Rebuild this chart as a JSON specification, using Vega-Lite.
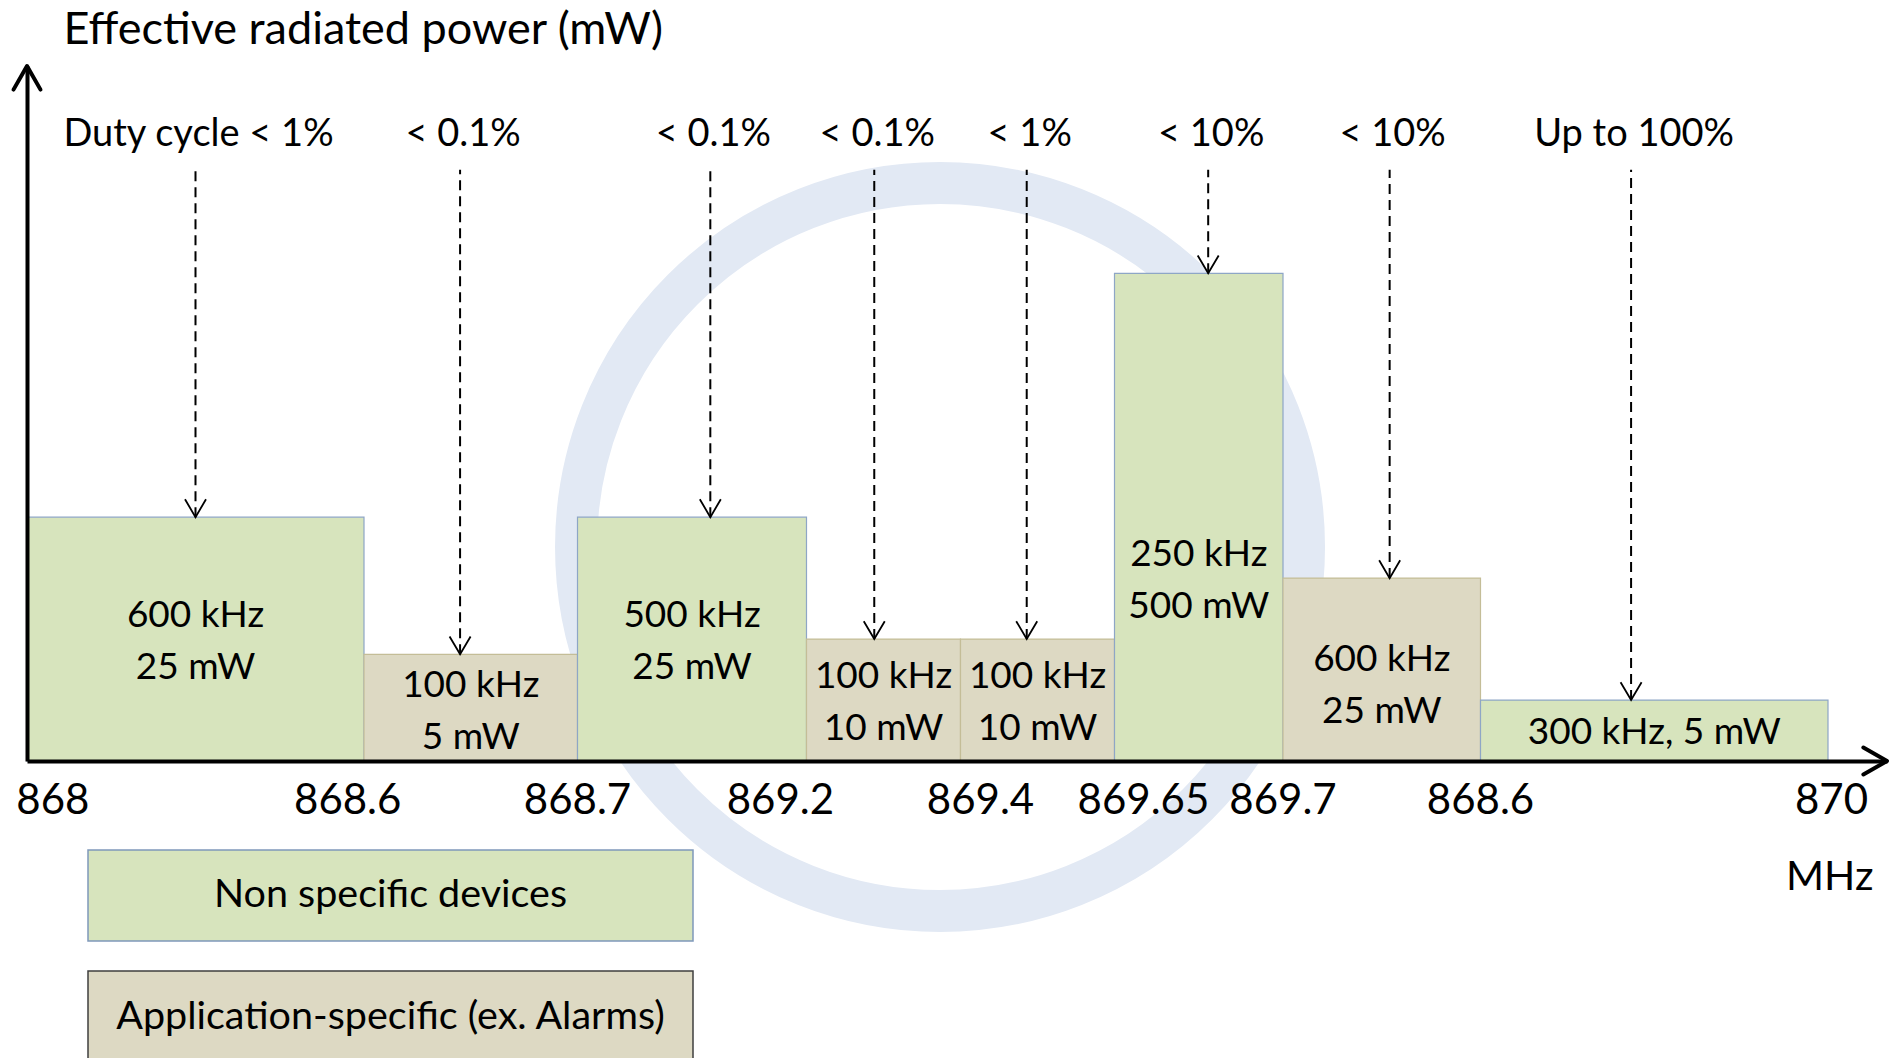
{
  "$schema": "https://vega.github.io/schema/vega-lite/v6.json",
  "width": 1860,
  "height": 695,
  "autosize": "none",
  "padding": {"left": 27, "top": 66, "right": 7, "bottom": 297},
  "background": "white",
  "config": {
    "view": {"stroke": null},
    "font": "Lato",
    "text": {"font": "Lato", "color": "black"}
  },
  "datasets": {
    "bands": [
      {"f0": 868.0, "f1": 868.6, "center": 868.3, "label": "600 kHz\n25 mW", "type": "Non specific devices", "duty": "Duty cycle < 1%", "level": 4, "labelLevel": 2, "pointer": 868.3},
      {"f0": 868.6, "f1": 868.7, "center": 868.65, "label": "100 kHz\n5 mW", "type": "Application-specific (ex. Alarms)", "duty": "< 0.1%", "level": 1.75, "labelLevel": 0.86, "pointer": 868.645},
      {"f0": 868.7, "f1": 869.2, "center": 868.95, "label": "500 kHz\n25 mW", "type": "Non specific devices", "duty": "< 0.1%", "level": 4, "labelLevel": 2, "pointer": 868.99},
      {"f0": 869.2, "f1": 869.3, "center": 869.25, "label": "100 kHz\n10 mW", "type": "Application-specific (ex. Alarms)", "duty": "< 0.1%", "level": 2, "labelLevel": 1, "pointer": 869.244},
      {"f0": 869.3, "f1": 869.4, "center": 869.35, "label": "100 kHz\n10 mW", "type": "Application-specific (ex. Alarms)", "duty": "< 1%", "level": 2, "labelLevel": 1, "pointer": 869.343},
      {"f0": 869.4, "f1": 869.65, "center": 869.525, "label": "250 kHz\n500 mW", "type": "Non specific devices", "duty": "< 10%", "level": 8, "labelLevel": 3, "pointer": 869.539},
      {"f0": 869.65, "f1": 869.7, "center": 869.675, "label": "600 kHz\n25 mW", "type": "Application-specific (ex. Alarms)", "duty": "< 10%", "level": 3, "labelLevel": 1.28, "pointer": 869.677},
      {"f0": 869.7, "f1": 870.0, "center": 869.85, "label": "300 kHz, 5 mW", "type": "Non specific devices", "duty": "Up to 100%", "level": 1, "labelLevel": 0.5, "pointer": 869.83}
    ],
    "ticks": [
      {"label": "868", "at": 868.046},
      {"label": "868.6", "at": 868.571},
      {"label": "868.7", "at": 868.7},
      {"label": "869.2", "at": 869.143},
      {"label": "869.4", "at": 869.313},
      {"label": "869.65", "at": 869.443},
      {"label": "869.7", "at": 869.65},
      {"label": "868.6", "at": 869.7},
      {"label": "870", "at": 870.003}
    ],
    "groups": [
      {"type": "Non specific devices"},
      {"type": "Application-specific (ex. Alarms)"}
    ]
  },
  "layer": [
    {
      "layer": [
        {
          "data": {"values": [{"logo": "globe ring"}]},
          "mark": {
            "type": "point",
            "shape": "circle",
            "size": 529984,
            "filled": false,
            "stroke": "#e2e9f4",
            "strokeWidth": 42,
            "opacity": 1
          },
          "encoding": {
            "x": {"datum": 869.2867, "type": "quantitative"},
            "y": {"datum": 3.51, "type": "quantitative"}
          }
        },
        {
          "data": {"name": "bands"},
          "mark": {"type": "rect", "strokeWidth": 1.2},
          "encoding": {
            "x": {
              "field": "f0",
              "type": "quantitative",
              "scale": {
                "domain": [868, 868.6, 868.7, 869.2, 869.3, 869.4, 869.65, 869.7, 870, 870.05],
                "range": [0, 337, 550.5, 779.5, 933.5, 1087.5, 1256, 1453.5, 1801, 1860],
                "nice": false,
                "zero": false
              },
              "axis": {
                "domain": true,
                "domainColor": "black",
                "domainWidth": 4,
                "ticks": false,
                "labels": false,
                "grid": false,
                "zindex": 1,
                "title": "MHz",
                "titleX": 1846,
                "titleY": 128,
                "titleAlign": "right",
                "titleBaseline": "alphabetic",
                "titleFont": "Lato",
                "titleFontSize": 41,
                "titleFontWeight": "normal",
                "titleColor": "black"
              }
            },
            "x2": {"field": "f1"},
            "y": {
              "field": "level",
              "type": "quantitative",
              "scale": {"domain": [0, 11.4], "nice": false, "zero": true},
              "axis": {
                "domain": true,
                "domainColor": "black",
                "domainWidth": 4,
                "ticks": false,
                "labels": false,
                "grid": false,
                "zindex": 1,
                "title": "Effective radiated power (mW)",
                "titleAngle": 0,
                "titleX": 36,
                "titleY": -23,
                "titleAlign": "left",
                "titleBaseline": "alphabetic",
                "titleFont": "Lato",
                "titleFontSize": 45,
                "titleFontWeight": "normal",
                "titleColor": "black"
              }
            },
            "y2": {"datum": 0},
            "fill": {
              "field": "type",
              "type": "nominal",
              "scale": {
                "domain": ["Non specific devices", "Application-specific (ex. Alarms)"],
                "range": ["#d7e4bd", "#ddd9c3"]
              },
              "legend": null
            },
            "stroke": {
              "field": "type",
              "type": "nominal",
              "scale": {
                "domain": ["Non specific devices", "Application-specific (ex. Alarms)"],
                "range": ["#8ea6c6", "#c4bd97"]
              },
              "legend": null
            }
          }
        },
        {
          "data": {"name": "bands"},
          "mark": {"type": "rule", "strokeDash": [10, 6], "strokeWidth": 2, "color": "black"},
          "encoding": {
            "x": {"field": "pointer", "type": "quantitative"},
            "y": {"field": "level", "type": "quantitative"},
            "y2": {"datum": 9.7}
          }
        },
        {
          "data": {"name": "bands"},
          "mark": {
            "type": "point",
            "shape": "M-1,-1.7L0,0L1,-1.7",
            "size": 441,
            "filled": false,
            "stroke": "black",
            "strokeWidth": 1.8,
            "opacity": 1
          },
          "encoding": {
            "x": {"field": "pointer", "type": "quantitative"},
            "y": {"field": "level", "type": "quantitative"}
          }
        },
        {
          "data": {"name": "bands"},
          "transform": [{"filter": "indexof(datum.label, '\\n') >= 0"}],
          "mark": {
            "type": "text",
            "fontSize": 37,
            "lineHeight": 52,
            "lineBreak": "\n",
            "align": "center",
            "baseline": "middle",
            "dy": -23,
            "color": "black"
          },
          "encoding": {
            "x": {"field": "center", "type": "quantitative"},
            "y": {"field": "labelLevel", "type": "quantitative"},
            "text": {"field": "label", "type": "nominal"}
          }
        },
        {
          "data": {"name": "bands"},
          "transform": [{"filter": "indexof(datum.label, '\\n') < 0"}],
          "mark": {
            "type": "text",
            "fontSize": 37,
            "align": "center",
            "baseline": "middle",
            "dy": 2,
            "color": "black"
          },
          "encoding": {
            "x": {"field": "center", "type": "quantitative"},
            "y": {"field": "labelLevel", "type": "quantitative"},
            "text": {"field": "label", "type": "nominal"}
          }
        },
        {
          "data": {"name": "bands"},
          "mark": {"type": "text", "fontSize": 38, "align": "center", "baseline": "alphabetic", "dx": 3, "color": "black"},
          "encoding": {
            "x": {"field": "pointer", "type": "quantitative"},
            "y": {"datum": 10.09, "type": "quantitative"},
            "text": {"field": "duty", "type": "nominal"}
          }
        },
        {
          "data": {"name": "ticks"},
          "mark": {"type": "text", "fontSize": 42, "align": "center", "baseline": "alphabetic", "dy": 53, "color": "black"},
          "encoding": {
            "x": {"field": "at", "type": "quantitative"},
            "y": {"datum": 0, "type": "quantitative"},
            "text": {"field": "label", "type": "nominal"}
          }
        },
        {
          "data": {"values": [{"end": "y"}]},
          "mark": {
            "type": "point",
            "shape": "M-1,1.75L0,0L1,1.75",
            "size": 729,
            "filled": false,
            "stroke": "black",
            "strokeWidth": 4,
            "strokeCap": "round",
            "strokeJoin": "round",
            "opacity": 1
          },
          "encoding": {
            "x": {"datum": 868, "type": "quantitative"},
            "y": {"datum": 11.4, "type": "quantitative"}
          }
        },
        {
          "data": {"values": [{"end": "x"}]},
          "mark": {
            "type": "point",
            "shape": "M-1,1.75L0,0L1,1.75",
            "size": 729,
            "angle": 90,
            "filled": false,
            "stroke": "black",
            "strokeWidth": 4,
            "strokeCap": "round",
            "strokeJoin": "round",
            "opacity": 1
          },
          "encoding": {
            "x": {"datum": 870.05, "type": "quantitative"},
            "y": {"datum": 0, "type": "quantitative"}
          }
        }
      ]
    },
    {
      "data": {"name": "groups"},
      "encoding": {
        "y": {
          "field": "type",
          "type": "nominal",
          "sort": null,
          "scale": {
            "type": "band",
            "domain": ["Non specific devices", "Application-specific (ex. Alarms)"],
            "range": [784, 996],
            "paddingInner": 0.248,
            "paddingOuter": 0
          },
          "axis": null
        }
      },
      "layer": [
        {
          "mark": {"type": "rect", "strokeWidth": 1.5},
          "encoding": {
            "x": {
              "datum": 0,
              "type": "quantitative",
              "scale": {"domain": [0, 1], "range": [61, 666], "nice": false, "zero": false},
              "axis": null
            },
            "x2": {"datum": 1},
            "fill": {"field": "type", "type": "nominal", "legend": null},
            "stroke": {
              "condition": {"test": "datum.type === 'Non specific devices'", "value": "#7f98bb"},
              "value": "#3f3f3f"
            }
          }
        },
        {
          "mark": {"type": "text", "fontSize": 39.5, "align": "center", "baseline": "middle", "color": "black"},
          "encoding": {
            "x": {"datum": 0.5, "type": "quantitative"},
            "text": {"field": "type", "type": "nominal"}
          }
        }
      ]
    }
  ],
  "resolve": {"scale": {"x": "independent", "y": "independent"}}
}
